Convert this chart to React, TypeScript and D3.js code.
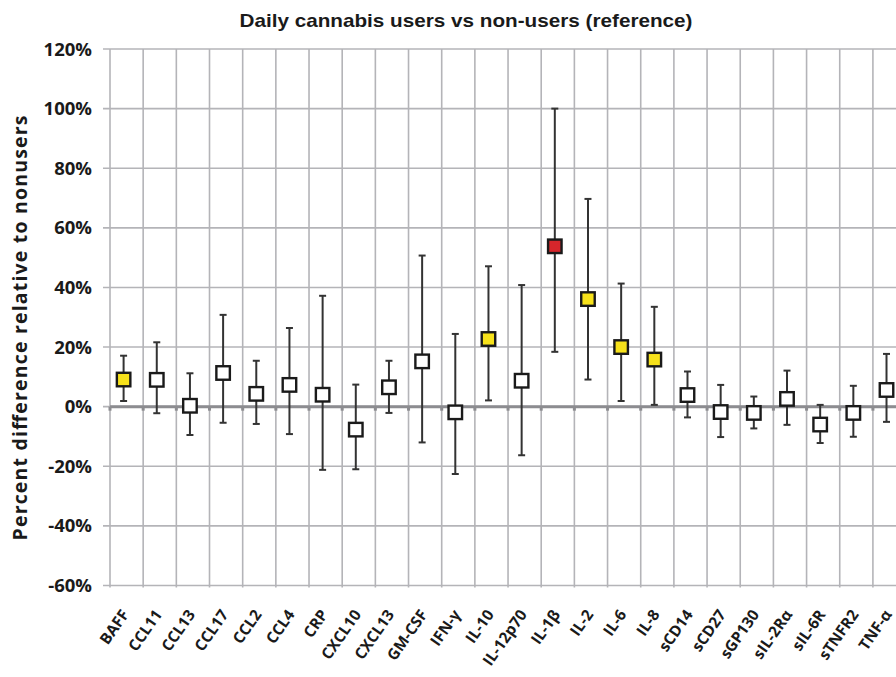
import React from "react";
import * as d3 from "d3";

const categories = ["BAFF","CCL11","CCL13","CCL17","CCL2","CCL4","CRP","CXCL10","CXCL13","GM-CSF","IFN-γ","IL-10","IL-12p70","IL-1β","IL-2","IL-6","IL-8","sCD14","sCD27","sGP130","sIL-2Rα","sIL-6R","sTNFR2","TNF-α"];
const estimates = [9.1,9.0,0.3,11.3,4.3,7.3,4.0,-7.7,6.5,15.2,-1.9,22.7,8.7,53.8,36.1,20.0,15.8,3.9,-1.8,-2.1,2.6,-6.0,-2.1,5.6];
const upper = [17.1,21.6,11.2,30.8,15.4,26.4,37.2,7.4,15.4,50.7,24.4,47.1,40.8,100,69.7,41.3,33.5,11.8,7.3,3.4,12.1,0.6,7.0,17.7];
const lower = [1.9,-2.2,-9.5,-5.4,-5.8,-9.2,-21.2,-21.0,-2.1,-12.0,-22.6,2.1,-16.3,18.4,9.1,1.9,0.6,-3.6,-10.2,-7.3,-6.1,-12.2,-10.1,-5.1];
const significance = ["sig","ns","ns","ns","ns","ns","ns","ns","ns","ns","ns","sig","ns","strong","sig","sig","sig","ns","ns","ns","ns","ns","ns","ns"];
const yTicks = [120,100,80,60,40,20,0,-20,-40,-60];

const W = 896, H = 677;
const left = 110, top = 49, bottom = 585.5;
const bandW = 33.17;

export default function App() {
  const x = d3.scaleBand<string>().domain(categories).range([left, left + bandW * categories.length]).padding(0);
  const y = d3.scaleLinear().domain([-60, 120]).range([bottom, top]);
  const cx = (c: string) => (x(c) as number) + x.bandwidth() * 0.41;
  const fillFor = (s: string) => (s === "strong" ? "#d7262b" : s === "sig" ? "#f7e21b" : "#ffffff");
  const font = "'Open Sans', Lato, sans-serif";
  const plotRight = W + 20;
  const ms = 13.5;

  return (
    <div style={{ position: "fixed", left: 0, top: 0 }}>
      <svg width={W} height={H} style={{ display: "block", background: "#fff" }}>
        <text x={466} y={27} textAnchor="middle" fontFamily="'Liberation Sans', Arial, sans-serif" fontWeight={700} fontSize={19}
          fill="#1a1a1a" textLength={453} lengthAdjust="spacingAndGlyphs">
          Daily cannabis users vs non-users (reference)
        </text>
        {/* horizontal gridlines */}
        {yTicks.map((t) => (
          <line key={"h" + t} x1={left - 7} x2={plotRight} y1={y(t)} y2={y(t)} stroke="#b4b4b8" strokeWidth={1.6} />
        ))}
        {/* vertical gridlines */}
        {categories.map((c) => (
          <line key={"v" + c} x1={x(c) as number} x2={x(c) as number} y1={top} y2={bottom + 2} stroke="#b4b4b8" strokeWidth={1.6} />
        ))}
        {/* zero axis */}
        <line x1={left} x2={plotRight} y1={y(0)} y2={y(0)} stroke="#8c8c90" strokeWidth={3} />
        {categories.map((c) => (
          <rect key={"t" + c} x={(x(c) as number) - 1.5} y={y(0)} width={3} height={4} fill="#8c8c90" />
        ))}
        {/* y labels */}
        {yTicks.map((t) => (
          <text key={"yl" + t} x={92} y={y(t) + 6.5} textAnchor="end" fontFamily={font} fontWeight={700} fontSize={18.5} fill="#1a1a1a">
            {t + "%"}
          </text>
        ))}
        <text transform={`translate(27,328) rotate(-90)`} textAnchor="middle" fontFamily={font} fontWeight={700} fontSize={19.5}
          fill="#1a1a1a" textLength={425} lengthAdjust="spacing">
          Percent difference relative to nonusers
        </text>
        {/* error bars */}
        {categories.map((c, i) => (
          <g key={"e" + c} stroke="#333" strokeWidth={2}>
            <line x1={cx(c)} x2={cx(c)} y1={y(upper[i])} y2={y(lower[i])} />
            <line x1={cx(c) - 3.5} x2={cx(c) + 3.5} y1={y(upper[i])} y2={y(upper[i])} />
            <line x1={cx(c) - 3.5} x2={cx(c) + 3.5} y1={y(lower[i])} y2={y(lower[i])} />
          </g>
        ))}
        {/* markers */}
        {categories.map((c, i) => (
          <rect key={"m" + c} x={cx(c) - ms / 2} y={y(estimates[i]) - ms / 2} width={ms} height={ms}
            fill={fillFor(significance[i])} stroke="#1a1a1a" strokeWidth={2.4} />
        ))}
        {/* x labels */}
        {categories.map((c) => (
          <text key={"xl" + c} transform={`translate(${cx(c) + 6},${bottom + 29}) rotate(-55)`} textAnchor="end"
            fontFamily={font} fontWeight={700} fontSize={15.5} fill="#1a1a1a">
            {c}
          </text>
        ))}
      </svg>
    </div>
  );
}
